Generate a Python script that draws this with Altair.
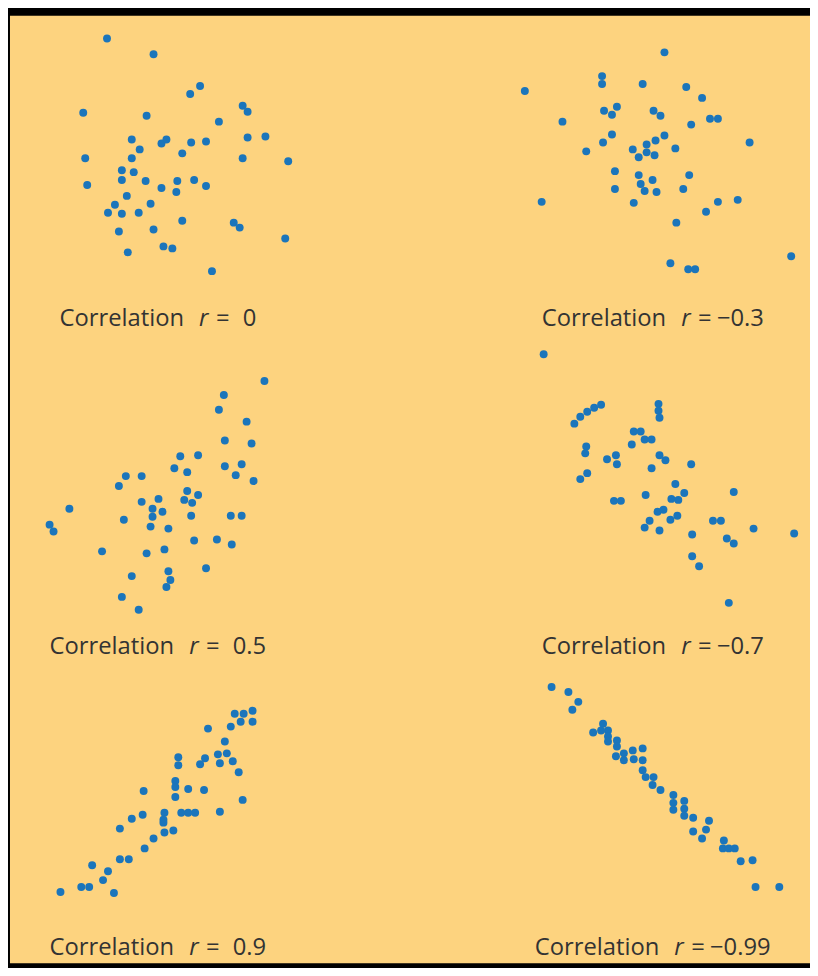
import altair as alt
import pandas as pd

# ---------------- data ----------------
r_values = ["0", "−0.3", "0.5", "−0.7", "0.9", "−0.99"]

p1_x = [98,145,192,182,74,138,235,240,211,123,131,153,158,183,198,240,258,76,123,174,235,281,113,125,78,113,137,153,169,168,186,198,118,106,99,113,130,142,110,145,174,226,232,278,119,155,164,204]
p1_y = [296,280,248,240,221,218,228,222,212,194,184,190,194,191,192,196,197,175,175,180,175,172,163,161,148,153,152,145,152,141,153,147,137,128,120,119,120,129,101,103,112,110,105,94,80,86,84,61]

p2_x = [257,194,194,116,235,279,295,196,209,204,246,253,154,284,303,311,204,195,257,248,239,343,178,225,231,239,247,268,207,231,245,233,237,249,207,282,276,133,226,311,331,299,269,385,263,281,288]
p2_y = [282,258,250,243,250,247,236,223,227,219,223,218,212,209,215,215,199,191,198,193,189,191,182,184,176,181,178,185,162,158,153,149,142,141,144,158,144,131,130,131,133,121,110,76,69,63,63]

p3_x = [257,216,211,239,217,244,172,190,217,234,166,179,228,246,117,133,110,179,190,176,184,133,150,144,154,144,60,115,183,223,234,40,44,142,160,186,209,224,93,138,156,198,123,160,162,158,113,130]
p3_y = [268,254,239,227,208,205,192,193,182,184,180,176,173,167,172,172,162,157,153,148,145,146,149,139,136,131,139,128,132,132,132,123,116,121,119,107,108,103,96,94,98,79,71,76,67,60,50,37]

p4_x = [135,166,172,179,186,193,251,251,252,226,233,237,244,224,178,177,199,208,209,252,258,244,284,179,172,268,277,264,271,238,206,213,327,250,256,270,263,242,237,252,306,314,285,347,388,320,327,285,292,322]
p4_y = [295,225,232,237,241,244,245,238,231,217,217,209,209,204,202,195,189,193,184,193,188,180,184,175,169,164,155,149,148,153,147,147,156,136,138,132,128,127,120,117,127,127,113,119,114,109,104,91,81,44]

p5_x = [227,236,245,233,245,223,200,217,210,219,212,225,231,197,192,170,170,167,167,167,180,196,235,135,134,156,155,155,173,180,187,212,123,111,156,165,145,136,111,120,83,99,94,72,80,51,105]
p5_y = [250,250,253,242,242,237,235,222,209,210,200,202,191,205,199,206,198,182,176,166,174,173,163,172,148,150,143,140,150,150,150,151,144,134,130,132,124,114,103,103,97,91,82,75,75,70,69]

p6_x = [143,160,170,164,195,185,193,200,200,200,209,209,208,216,216,225,226,235,235,235,238,246,245,253,266,266,266,277,277,277,286,302,299,286,295,317,316,322,328,334,346,349,373]
p6_y = [277,272,262,254,240,231,233,233,227,222,223,217,207,210,203,213,204,215,203,193,186,186,178,173,168,160,153,162,154,147,145,142,133,131,124,122,114,114,114,101,102,75,75]

panels = [(p1_x, p1_y), (p2_x, p2_y), (p3_x, p3_y), (p4_x, p4_y), (p5_x, p5_y), (p6_x, p6_y)]

# ---------------- styling / layout ----------------
BG = "#FDD37F"
DOT = "#1B75BB"
TXT = "#333333"
FONT = "Open Sans"
FS = 24
W, H = 808, 957

col_range = [[0, 404], [404, 808]]
row_range = [[319, 0], [637, 319], [955, 637]]
row_dom = [319, 318, 318]

label_start = [50, 537, 40, 537, 40, 530]   # plot-area px, per label
label_base = [313, 313, 645, 645, 949, 949]

layers = []
for i, (xs, ys) in enumerate(panels):
    col, row = i % 2, i // 2
    df = pd.DataFrame({"x": xs, "y": ys})
    layers.append(
        alt.Chart(df).mark_circle(size=64, color=DOT, opacity=1).encode(
            x=alt.X("x:Q", axis=None,
                    scale=alt.Scale(domain=[0, 404], range=col_range[col], nice=False, zero=False)),
            y=alt.Y("y:Q", axis=None,
                    scale=alt.Scale(domain=[0, row_dom[row]], range=row_range[row], nice=False, zero=False)),
        )
    )

dummy = pd.DataFrame({"k": [0]})
for i, rv in enumerate(r_values):
    s, b = label_start[i], label_base[i]
    voff = 177 if rv.startswith("−") else 185
    parts = [
        ("Correlation", s, "normal"),
        ("r", s + 141, "italic"),
        ("=", s + 158, "normal"),
        (rv, s + voff, "normal"),
    ]
    for txt, xp, style in parts:
        layers.append(
            alt.Chart(dummy).mark_text(
                text=txt, align="left", baseline="alphabetic",
                font=FONT, fontSize=FS, fontStyle=style, color=TXT,
            ).encode(x=alt.value(xp), y=alt.value(b))
        )

chart = (
    alt.layer(*layers)
    .resolve_scale(x="independent", y="independent")
    .properties(width=W, height=H,
                padding={"left": 2, "top": 3, "right": 0, "bottom": 0},
                background="#000000")
    .configure_view(fill=BG, stroke=None)
)

chart.save("out.html", embed_options={"renderer": "svg", "actions": False})
